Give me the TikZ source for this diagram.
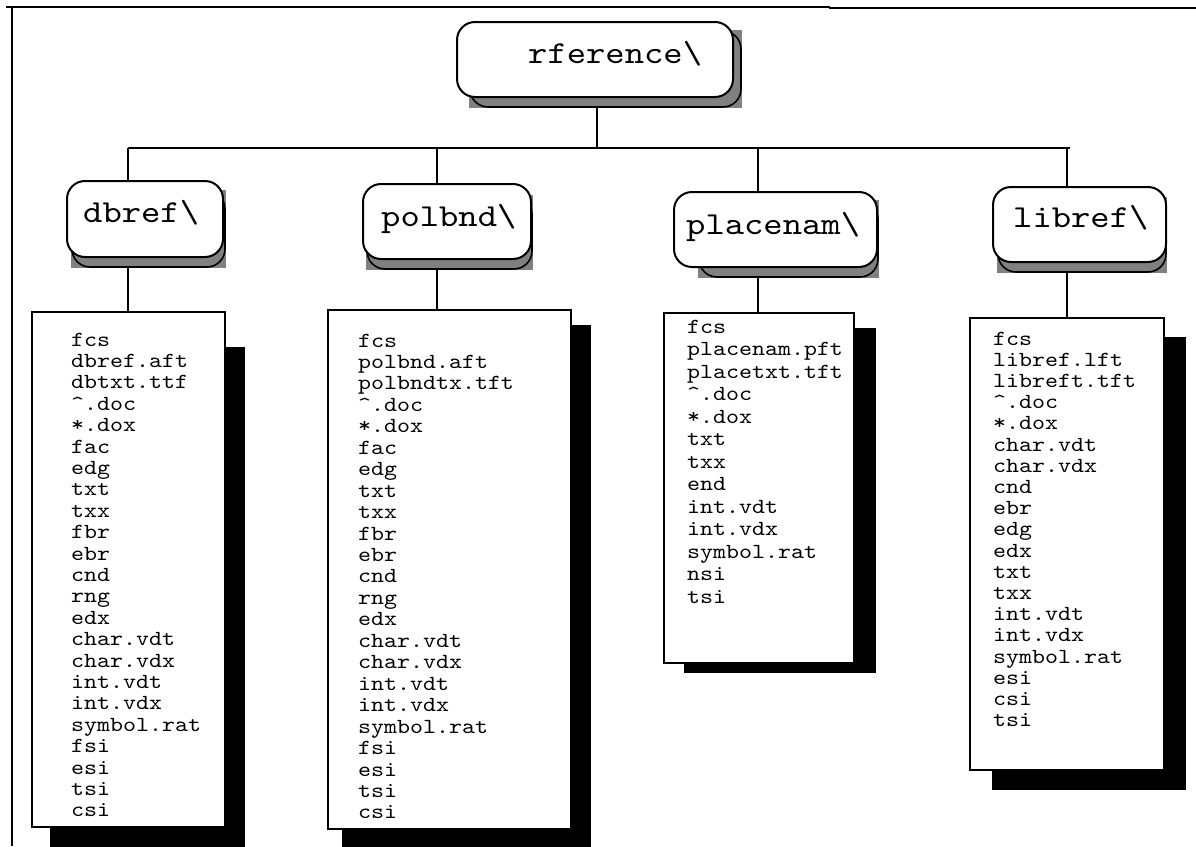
\documentclass[tikz,border=0pt]{standalone}
\usepackage{fontspec}
\newfontfamily\cour{lmmono10-regular.otf}[FakeStretch=1.15]
\newcommand\itm[1]{\hbox{#1}}
\newcommand\filelist[2]{\vtop{\baselineskip=#1pt\lineskiplimit=-100pt\lineskip=0pt #2}}
\usetikzlibrary{backgrounds,calc}
\begin{document}
\begin{tikzpicture}[x=1pt,y=-1pt,
  dirbox/.style={draw, line width=2pt, fill=white, rounded corners=18pt, inner sep=0pt, outer sep=0pt},
  grayshadow/.style={fill=black!50},
  ghost/.style={draw, line width=1.6pt, rounded corners=18pt},
  listbox/.style={draw, line width=1.6pt, fill=white, inner sep=0pt, outer sep=0pt},
  blackshadow/.style={fill=black},
  dirlabel/.style={font=\cour\fontsize{32}{36}\selectfont, anchor=base west, inner sep=0pt},
  listtext/.style={font=\cour\fontsize{21.5}{22}\selectfont, anchor=base west, inner sep=0pt},
  conn/.style={line width=2pt}]
\useasboundingbox (0,0) rectangle (1196,846);

% frame
\draw[line width=2.6pt] (6,7) -- (830,7);
\draw[line width=1.6pt] (829,8) -- (1196,8);
\draw[line width=2pt] (12,8) -- (12,846);

% root
\fill[grayshadow] (469,30) rectangle (742,108);
\draw[ghost] (470,31) rectangle (741,107);
\node[dirbox, minimum width=276pt, minimum height=75pt] (root) at (595,59.5) {};
\node[dirlabel] (rootlbl) at (528,63) {rference\textbackslash};

% dbref
\fill[grayshadow] (71,190) rectangle (226,268);
\draw[ghost] (72,191) rectangle (225,267);
\node[dirbox, minimum width=156pt, minimum height=76pt] (dbref) at (145,219) {};
\node[dirlabel] (dbreflbl) at (83,222) {dbref\textbackslash};

% polbnd
\fill[grayshadow] (366,195) rectangle (533,270);
\draw[ghost] (367,196) rectangle (532,269);
\node[dirbox, minimum width=168pt, minimum height=75pt] (polbnd) at (447,221.5) {};
\node[dirlabel] (polbndlbl) at (381,226) {polbnd\textbackslash};

% placenam
\fill[grayshadow] (698,200) rectangle (879,278);
\draw[ghost] (699,201) rectangle (878,277);
\node[dirbox, minimum width=203pt, minimum height=75pt] (placenam) at (775.5,229.5) {};
\node[dirlabel] (placenamlbl) at (686,234) {placenam\textbackslash};

% libref
\fill[grayshadow] (997,197) rectangle (1167,273);
\draw[ghost] (998,198) rectangle (1166,272);
\node[dirbox, minimum width=173pt, minimum height=75pt] (libref) at (1079.5,224.5) {};
\node[dirlabel] (libreflbl) at (1013,227) {libref\textbackslash};

% lists
\fill[blackshadow] (50,347) rectangle (245,850);
\node[listbox, minimum width=193pt, minimum height=515pt] (dbL) at (128.5,569.5) {};
\node[listtext] (dbT) at (71,346) {\filelist{21.4}{\itm{fcs}\itm{dbref.aft}\itm{dbtxt.ttf}\itm{\textasciicircum.doc}\itm{*.dox}\itm{fac}\itm{edg}\itm{txt}\itm{txx}\itm{fbr}\itm{ebr}\itm{cnd}\itm{rng}\itm{edx}\itm{char.vdt}\itm{char.vdx}\itm{int.vdt}\itm{int.vdx}\itm{symbol.rat}\itm{fsi}\itm{esi}\itm{tsi}\itm{csi}}};

\fill[blackshadow] (342,325) rectangle (591,850);
\node[listbox, minimum width=243pt, minimum height=519pt] (polL) at (449.5,569.5) {};
\node[listtext] (polT) at (358,347) {\filelist{21.45}{\itm{fcs}\itm{polbnd.aft}\itm{polbndtx.tft}\itm{\textasciicircum.doc}\itm{*.dox}\itm{fac}\itm{edg}\itm{txt}\itm{txx}\itm{fbr}\itm{ebr}\itm{cnd}\itm{rng}\itm{edx}\itm{char.vdt}\itm{char.vdx}\itm{int.vdt}\itm{int.vdx}\itm{symbol.rat}\itm{fsi}\itm{esi}\itm{tsi}\itm{csi}}};

\fill[blackshadow] (684,328) rectangle (876,673);
\node[listbox, minimum width=190pt, minimum height=350pt] (plL) at (759,488) {};
\node[listtext] (plT) at (687,333) {\filelist{22.5}{\itm{fcs}\itm{placenam.pft}\itm{placetxt.tft}\itm{\textasciicircum.doc}\itm{*.dox}\itm{txt}\itm{txx}\itm{end}\itm{int.vdt}\itm{int.vdx}\itm{symbol.rat}\itm{nsi}\itm{tsi}}};

\fill[blackshadow] (992,337) rectangle (1186,790);
\node[listbox, minimum width=194pt, minimum height=452pt] (libL) at (1067,544) {};
\node[listtext] (libT) at (993,345) {\filelist{21.2}{\itm{fcs}\itm{libref.lft}\itm{libreft.tft}\itm{\textasciicircum.doc}\itm{*.dox}\itm{char.vdt}\itm{char.vdx}\itm{cnd}\itm{ebr}\itm{edg}\itm{edx}\itm{txt}\itm{txx}\itm{int.vdt}\itm{int.vdx}\itm{symbol.rat}\itm{esi}\itm{csi}\itm{tsi}}};

% connectors
\begin{scope}[on background layer]
\coordinate (b0) at (597,148);
\coordinate (b1) at (128,148);
\coordinate (b2) at (437,148);
\coordinate (b3) at (758,148);
\coordinate (b4) at (1067,148);
\coordinate (bR) at (1070,148);
\draw[conn] (b1) -- (bR);
\draw[conn] (b0 |- root.south) -- (b0);
\draw[conn] (b1) -- (b1 |- dbref.north);
\draw[conn] (b2) -- (b2 |- polbnd.north);
\draw[conn] (b3) -- (b3 |- placenam.north);
\draw[conn] (b4) -- (b4 |- libref.north);
\draw[conn] (b1 |- dbref.south) -- (b1 |- dbL.north);
\draw[conn] (b2 |- polbnd.south) -- (b2 |- polL.north);
\draw[conn] (b3 |- placenam.south) -- (b3 |- plL.north);
\draw[conn] (b4 |- libref.south) -- (b4 |- libL.north);
\end{scope}
\end{tikzpicture}
\end{document}
